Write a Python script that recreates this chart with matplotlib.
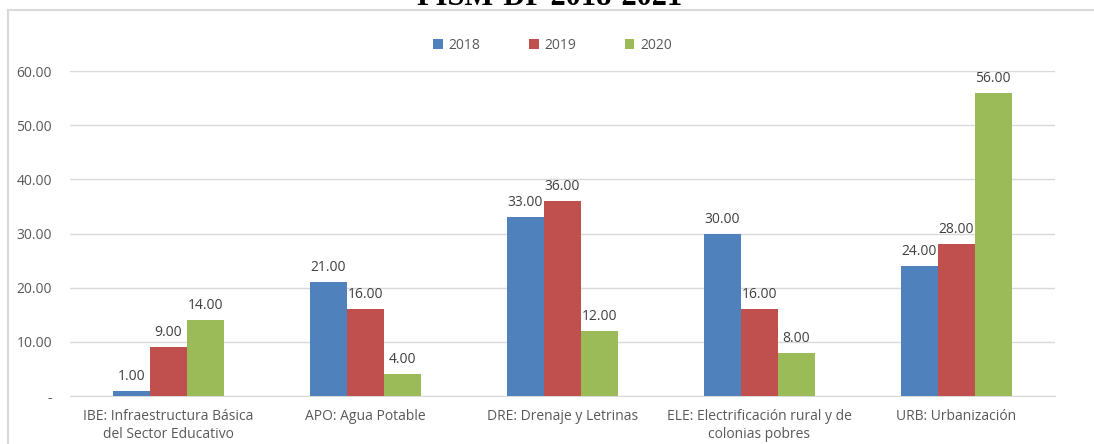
import numpy as np
import matplotlib.pyplot as plt
from matplotlib.lines import Line2D

# chart data
categories = ['IBE: Infraestructura Básica\ndel Sector Educativo',
              'APO: Agua Potable',
              'DRE: Drenaje y Letrinas',
              'ELE: Electrificación rural y de\ncolonias pobres',
              'URB: Urbanización']
years = ['2018', '2019', '2020']
values_2018 = [1, 21, 33, 30, 24]
values_2019 = [9, 16, 36, 16, 28]
values_2020 = [14, 4, 12, 8, 56]
yticks = [0, 10, 20, 30, 40, 50, 60]

colors = ['#4f81bd', '#c0504d', '#9bbb59']
text_color = '#595959'
font = 'Open Sans'


def main():
    fig = plt.figure(figsize=(10.94, 4.44), dpi=100)
    ax = fig.add_axes([0.064, 0.108, 0.9, 0.732])

    x = np.arange(len(categories))
    width = 0.188
    series = [values_2018, values_2019, values_2020]
    for i, vals in enumerate(series):
        pos = x + (i - 1) * width
        bars = ax.bar(pos, vals, width, color=colors[i], label=years[i], zorder=3)
        for b, v in zip(bars, vals):
            ax.text(b.get_x() + b.get_width() / 2, v + 1.3, '%.2f' % v,
                    ha='center', va='bottom', fontsize=10, color='#404040',
                    family=font, zorder=4)

    ax.set_xlim(-0.5, len(categories) - 0.5)
    ax.set_ylim(0, 60)
    ax.set_yticks(yticks)
    ax.set_yticklabels(['-' if t == 0 else '%.2f' % t for t in yticks])
    ax.set_xticks(x)
    ax.set_xticklabels(categories, fontsize=10, color=text_color, family=font,
                       linespacing=1.3)
    for lab in ax.get_yticklabels():
        lab.set_fontsize(10)
        lab.set_color(text_color)
        lab.set_family(font)
    ax.tick_params(axis='both', length=0)
    ax.tick_params(axis='y', pad=13)
    ax.tick_params(axis='x', pad=9)
    ax.grid(axis='y', color='#d9d9d9', linewidth=1, zorder=0)
    for s in ['top', 'right', 'left']:
        ax.spines[s].set_visible(False)
    ax.spines['bottom'].set_color('#d9d9d9')

    ax.legend(loc='upper center', bbox_to_anchor=(0.49, 1.14), ncol=3,
              frameon=False, handlelength=0.7, handleheight=0.7,
              columnspacing=3.5, handletextpad=0.4,
              prop={'family': font, 'size': 10}, labelcolor=text_color)

    # outer chart frame
    fig.add_artist(Line2D([8 / 1094, 8 / 1094], [0, 1 - 10 / 444],
                          transform=fig.transFigure, color='#d9d9d9', linewidth=1.5))
    fig.add_artist(Line2D([8 / 1094, 1], [1 - 10 / 444, 1 - 10 / 444],
                          transform=fig.transFigure, color='#d9d9d9', linewidth=1.5))

    # title mostly cut off at the top
    fig.text(550 / 1094, 1 - 5 / 444, 'FISM-DF 2018-2021', ha='center', va='baseline',
             fontsize=22, fontweight='bold', family='Liberation Serif', color='black')

    fig.savefig('out.png', dpi=100)


if __name__ == "__main__":
    main()
